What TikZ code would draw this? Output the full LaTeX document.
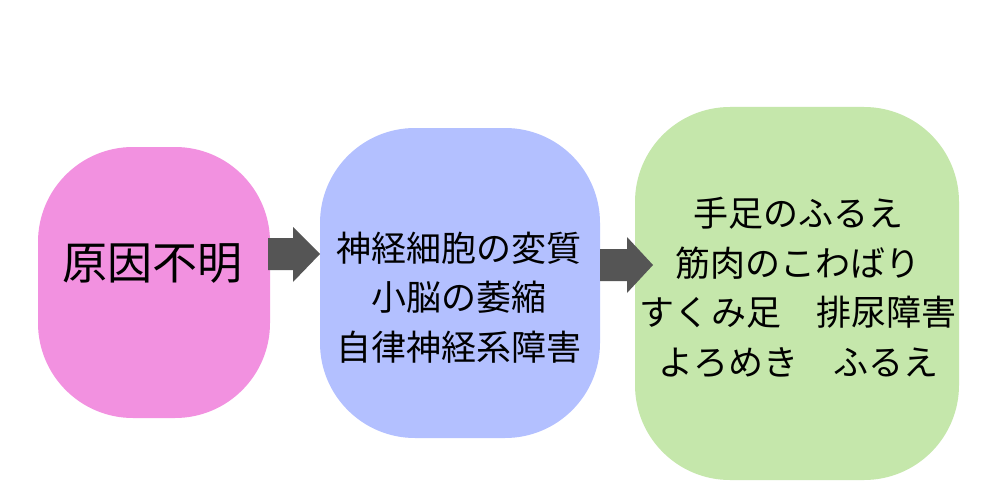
\documentclass[tikz,border=0pt]{standalone}
\usepackage{fontspec}
\newfontfamily\jp{Noto Sans CJK JP}
\definecolor{pinkfill}{RGB}{242,145,224}
\definecolor{bluefill}{RGB}{179,192,255}
\definecolor{greenfill}{RGB}{197,231,171}
\definecolor{arrowgray}{RGB}{85,85,85}
\begin{document}
\begin{tikzpicture}[x=1pt,y=-1pt,
  box/.style={fill=#1, draw=none, rounded corners=95pt},
  label/.style={anchor=base, align=center, inner sep=0pt, font=\jp\fontsize{35}{49.5}\selectfont},
  blockarrow/.style={fill=arrowgray, draw=none}]
\useasboundingbox (0,0) rectangle (1000,500);
\fill[white] (0,0) rectangle (1000,500);
% boxes
\path[box=pinkfill] (38,147) rectangle (270,418);
\path[box=bluefill] (320,128) rectangle (600,438);
\path[box=greenfill] (635,107) rectangle (959,480);
% arrows
\fill[blockarrow] (268,238) -- (293,238) -- (293,227) -- (320,254) -- (293,282) -- (293,270) -- (268,270) -- cycle;
\fill[blockarrow] (600,249) -- (627,249) -- (627,237) -- (653,265) -- (627,293) -- (627,281) -- (600,281) -- cycle;
% texts
\node[label, font=\jp\fontsize{45}{50}\selectfont] (cause) at (152,279) {原因不明};
\node[label] (path) at (459,360) {神経細胞の変質\\小脳の萎縮\\自律神経系障害};
\node[label] (symp) at (798,375) {手足のふるえ\\筋肉のこわばり\\すくみ足　排尿障害\\よろめき　ふるえ};
\end{tikzpicture}
\end{document}
